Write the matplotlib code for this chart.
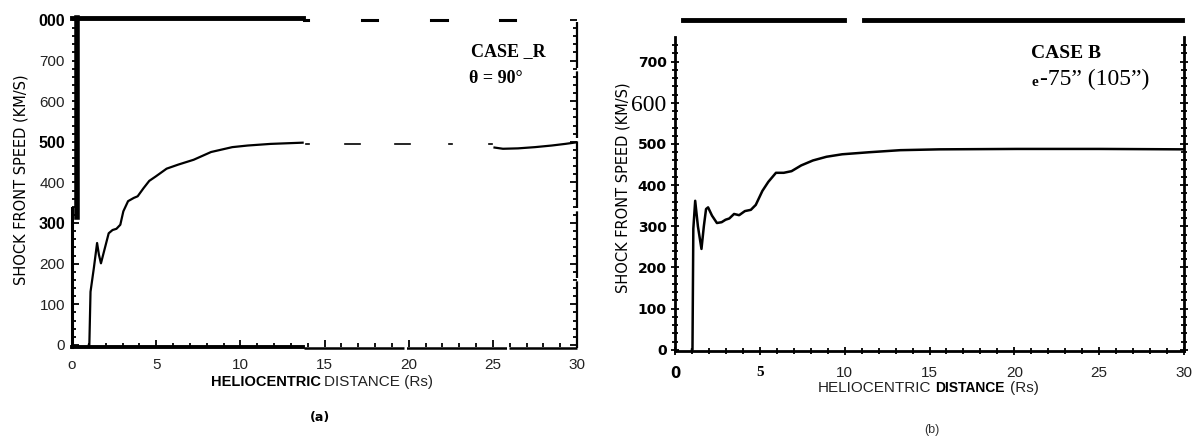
import numpy as np
import matplotlib
matplotlib.use('Agg')
import matplotlib.pyplot as plt
import matplotlib.transforms as mtransforms

# Shock front speed vs heliocentric distance, two cases side by side.

# panel (a): case B, theta = 90 deg
dist_a = [1.0, 1.03, 1.1, 1.3, 1.49, 1.6, 1.72, 1.9, 2.18, 2.41, 2.64, 2.87, 3.05,
          3.33, 3.67, 3.9, 4.25, 4.59, 4.98, 5.62, 6.31, 7.23, 8.26, 9.52, 10.44,
          11.8, 13.7]
speed_a = [0, 0, 131, 190, 251, 222, 201, 230, 275, 283, 286, 296, 329,
           354, 362, 366, 386, 404, 415, 434, 444, 456, 475, 487, 491,
           495, 498]
# short piece drawn past the gap
dist_a2 = [25.1, 25.6, 26.5, 27.5, 28.5, 29.3, 30.0]
speed_a2 = [486, 483, 484, 487, 491, 495, 499]

# panel (b): case B, theta = 75 (105) deg
dist_b = [1.0, 1.03, 1.08, 1.19, 1.35, 1.56, 1.7, 1.83, 1.95, 2.18, 2.47, 2.75,
          2.98, 3.2, 3.48, 3.78, 4.12, 4.47, 4.76, 5.15, 5.5, 5.95, 6.41, 6.87,
          7.44, 8.13, 8.93, 9.85, 11.45, 13.28, 15.57, 20.15, 25.0, 30.0]
speed_b = [0, 0, 294, 362, 300, 245, 300, 342, 346, 326, 308, 310,
           316, 319, 330, 327, 337, 340, 352, 386, 408, 430, 430, 434,
           448, 460, 469, 475, 480, 485, 487, 488, 488, 487]

yticks_a = [0, 100, 200, 300, 400, 500, 600, 700, 800]
ylabels_a = ['0', '100', '200', '300', '400', '500', '600', '700', '000']
xticks = [0, 5, 10, 15, 20, 25, 30]
xlabels_a = ['o', '5', '10', '15', '20', '25', '30']
yticks_b = [0, 100, 200, 300, 400, 500, 600, 700]
ylabels_b = ['0', '100', '200', '300', '400', '500', '600', '700']
xlabels_b = ['0', '5', '10', '15', '20', '25', '30']

W, H = 1192, 437
fig = plt.figure(figsize=(W / 100, H / 100), dpi=100)

SANS = ['Liberation Sans', 'DejaVu Sans']
SERIF = ['Liberation Serif', 'DejaVu Serif']


def px(x, y):
    return x / W, 1 - y / H


# ---------------- panel (a) ----------------
ax1 = fig.add_axes([72 / W, (437 - 347) / H, 505 / W, 327 / H])
ax1.set_xlim(0, 30)
ax1.set_ylim(-5, 800)
for s in ax1.spines.values():
    s.set_visible(False)

ax1.plot(dist_a, speed_a, color='black', lw=1.6)
ax1.plot(dist_a2, speed_a2, color='black', lw=1.6)

# frame pieces, as they look on the scan
ax1.plot([0, 13.7], [-5, -5], color='black', lw=2.8, clip_on=False)
ax1.plot([13.8, 30], [-7, -7], color='black', lw=1.8, clip_on=False,
         linestyle=(0, (40, 1)))
ax1.plot([0, 0], [-5, 336], color='black', lw=2.2, clip_on=False)
ax1.plot([0.28, 0.28], [315, 805], color='black', lw=4, clip_on=False)
ax1.plot([0, 13.7], [805, 805], color='black', lw=3.5, clip_on=False)
for x0, x1 in [(13.8, 14.0), (17.2, 18.1), (21.3, 22.3), (25.4, 26.3)]:
    ax1.plot([x0, x1], [800, 800], color='black', lw=2.2, clip_on=False)
for x0, x1 in [(13.9, 14.1), (16.2, 17.1), (19.2, 20.1), (22.4, 22.55), (24.8, 24.95)]:
    ax1.plot([x0, x1], [494, 494], color='black', lw=1.2)
ax1.plot([30, 30], [-7, 795], color='black', lw=1.6, clip_on=False,
         linestyle=(0, (30, 1.5)))

ax1.set_yticks(yticks_a, ylabels_a)
ax1.set_xticks(xticks, xlabels_a)
ax1.set_yticks(np.arange(0, 800, 20), minor=True)
ax1.set_xticks(np.arange(0, 31, 1), minor=True)
ax1.tick_params(which='both', direction='in', right=True, width=1.3)
ax1.tick_params(which='major', length=5)
ax1.tick_params(which='minor', length=3)
ax1.tick_params(axis='y', pad=5)
ax1.tick_params(axis='x', pad=8)
for lbl in ax1.get_yticklabels():
    lbl.set_fontfamily(SANS)
    if lbl.get_text() in ('000', '500', '300'):
        lbl.set_fontweight('bold')
        lbl.set_fontsize(11.5)
        lbl.set_color('black')
    else:
        lbl.set_fontsize(11)
        lbl.set_color('#222222')
for lbl in ax1.get_xticklabels():
    lbl.set_fontfamily(SANS)
    lbl.set_fontsize(11)
    lbl.set_color('#222222')

ax1.text(23.7, 722, 'CASE _R', family=SERIF, weight='bold', fontsize=13,
         ha='left', va='center')
ax1.text(23.6, 656, 'θ = 90°', family=SERIF, weight='bold', fontsize=13,
         ha='left', va='center')

fig.text(*px(21, 180), 'SHOCK FRONT SPEED (KM/S)', rotation=90, ha='center',
         va='center', fontsize=10.5, family='DejaVu Sans')
fig.text(*px(321, 382), 'HELIOCENTRIC', family=SANS, weight='bold',
         fontsize=10.5, ha='right', va='center')
fig.text(*px(324, 382), 'DISTANCE (Rs)', family=SANS, fontsize=11,
         ha='left', va='center', color='#222222')
fig.text(*px(320, 418), '(a)', family='DejaVu Sans', weight='bold',
         fontsize=9, ha='center', va='center')

# ---------------- panel (b) ----------------
ax2 = fig.add_axes([675 / W, (437 - 351) / H, 509 / W, 314 / H])
ax2.set_xlim(0, 30)
ax2.set_ylim(-3, 760)
ax2.spines['top'].set_visible(False)
for side in ('left', 'right', 'bottom'):
    ax2.spines[side].set_linewidth(2)

ax2.plot(dist_b, speed_b, color='black', lw=1.8)

top = mtransforms.blended_transform_factory(ax2.transData, ax2.transAxes)
for x0, x1 in [(0.47, 9.96), (11.14, 29.9)]:
    ax2.plot([x0, x1], [1.055, 1.055], color='black', lw=3.5,
             transform=top, clip_on=False)

ax2.set_yticks(yticks_b, ylabels_b)
ax2.set_xticks(xticks, xlabels_b)
ax2.set_yticks(np.arange(0, 760, 20), minor=True)
ax2.set_xticks(np.arange(0, 31, 1), minor=True)
ax2.tick_params(which='both', direction='inout', right=True, width=1.3)
ax2.tick_params(which='major', length=6)
ax2.tick_params(which='minor', length=4)
ax2.tick_params(axis='y', pad=3)
ax2.tick_params(axis='x', pad=8)
for lbl in ax2.get_yticklabels():
    if lbl.get_text() == '600':
        lbl.set_fontfamily(SERIF)
        lbl.set_fontsize(17)
    else:
        lbl.set_fontfamily('DejaVu Sans')
        lbl.set_fontweight('bold')
        lbl.set_fontsize(10)
for lbl in ax2.get_xticklabels():
    t = lbl.get_text()
    if t == '0':
        lbl.set_fontfamily('DejaVu Sans')
        lbl.set_fontweight('bold')
        lbl.set_fontsize(10.5)
    elif t == '5':
        lbl.set_fontfamily(SERIF)
        lbl.set_fontweight('bold')
        lbl.set_fontsize(11)
    else:
        lbl.set_fontfamily(SANS)
        lbl.set_fontsize(11)
        lbl.set_color('#222222')

ax2.text(21.0, 720, 'CASE B', family=SERIF, weight='bold', fontsize=14,
         ha='left', va='center')
ax2.text(21.0, 650, 'e', family=SERIF, weight='bold', fontsize=11,
         ha='left', va='center')
ax2.text(21.5, 656, '-75” (105”)', family=SERIF, fontsize=17,
         ha='left', va='center')

fig.text(*px(623, 188), 'SHOCK FRONT SPEED (KM/S)', rotation=90, ha='center',
         va='center', fontsize=10.5, family='DejaVu Sans')
fig.text(*px(931, 388), 'HELIOCENTRIC', family=SANS, fontsize=11,
         ha='right', va='center', color='#222222')
fig.text(*px(935, 388), 'DISTANCE', family=SANS, weight='bold',
         fontsize=10, ha='left', va='center')
fig.text(*px(1010, 388), '(Rs)', family=SANS, fontsize=11,
         ha='left', va='center', color='#222222')
fig.text(*px(932, 430), '(b)', family=SANS, fontsize=9,
         ha='center', va='center', color='#333333')

fig.savefig('out.png', dpi=100)
